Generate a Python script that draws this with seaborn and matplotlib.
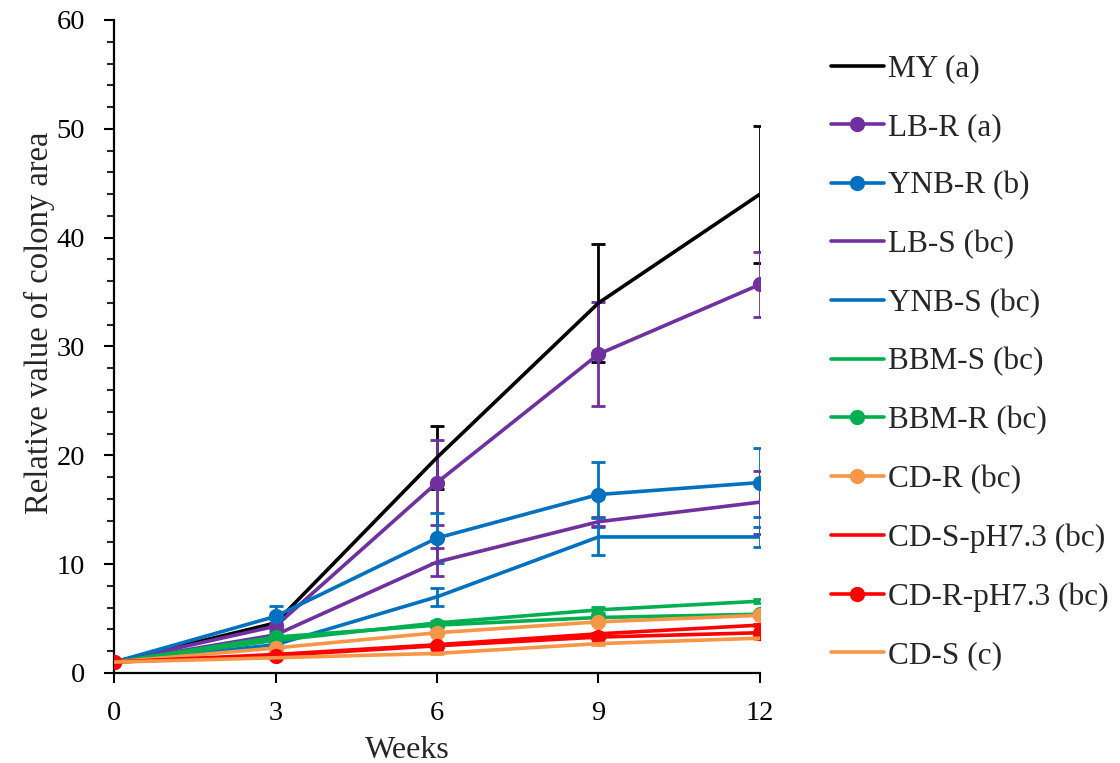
import matplotlib
matplotlib.use("Agg")
import matplotlib.pyplot as plt
import seaborn as sns
import numpy as np
from matplotlib.ticker import MultipleLocator

sns.set_theme(style="white")
plt.rcParams['font.family'] = ['Liberation Serif', 'DejaVu Serif']

weeks = [0, 3, 6, 9, 12]
labels = ["MY (a)", "LB-R (a)", "YNB-R (b)", "LB-S (bc)", "YNB-S (bc)", "BBM-S (bc)",
          "BBM-R (bc)", "CD-R (bc)", "CD-S-pH7.3 (bc)", "CD-R-pH7.3 (bc)", "CD-S (c)"]

my = [1.0, 4.6, 19.8, 34.0, 44.0]
lb_r = [1.0, 4.3, 17.5, 29.3, 35.7]
ynb_r = [1.0, 5.2, 12.4, 16.4, 17.5]
lb_s = [1.0, 3.5, 10.2, 13.9, 15.7]
ynb_s = [1.0, 2.6, 7.0, 12.5, 12.5]
bbm_s = [1.0, 3.0, 4.6, 5.8, 6.6]
bbm_r = [1.0, 3.3, 4.4, 5.1, 5.4]
cd_r = [1.0, 2.3, 3.7, 4.7, 5.3]
cd_s_ph = [1.0, 1.7, 2.6, 3.6, 4.4]
cd_r_ph = [1.0, 1.6, 2.5, 3.3, 3.7]
cd_s = [1.0, 1.4, 1.8, 2.7, 3.2]

my_err = [0.0, 0.4, 2.9, 5.4, 6.3]
lb_r_err = [0.0, 0.3, 3.9, 4.8, 3.0]
ynb_r_err = [0.0, 1.0, 2.3, 3.0, 3.2]
lb_s_err = [0.0, 0.3, 1.3, 0.4, 2.9]
ynb_s_err = [0.0, 0.2, 0.8, 1.7, 0.9]
bbm_s_err = [0.0, 0.2, 0.2, 0.25, 0.2]
bbm_r_err = [0.0, 0.2, 0.2, 0.2, 0.2]
cd_r_err = [0.0, 0.15, 0.15, 0.15, 0.15]
cd_s_ph_err = [0.0, 0.1, 0.1, 0.1, 0.1]
cd_r_ph_err = [0.0, 0.1, 0.1, 0.1, 0.1]
cd_s_err = [0.0, 0.1, 0.1, 0.1, 0.1]

series = [my, lb_r, ynb_r, lb_s, ynb_s, bbm_s, bbm_r, cd_r, cd_s_ph, cd_r_ph, cd_s]
errs = [my_err, lb_r_err, ynb_r_err, lb_s_err, ynb_s_err, bbm_s_err, bbm_r_err,
        cd_r_err, cd_s_ph_err, cd_r_ph_err, cd_s_err]

BLACK = "#000000"
PURPLE = "#7030A0"
BLUE = "#0070C0"
GREEN = "#00B050"
ORANGE = "#F79646"
RED = "#FF0000"
colors = [BLACK, PURPLE, BLUE, PURPLE, BLUE, GREEN, GREEN, ORANGE, RED, RED, ORANGE]
markers = [None, "o", "o", None, None, None, "o", "o", None, "o", None]

fig = plt.figure(figsize=(11.2, 7.63), dpi=100)
ax = fig.add_axes([114 / 1120, 90 / 763, (760 - 114) / 1120, (673 - 20) / 763])

for vals, err, lab, c, m in zip(series, errs, labels, colors, markers):
    ax.errorbar(weeks, vals, yerr=err, fmt="none", ecolor=c, elinewidth=2,
                capsize=5, capthick=2, zorder=2)
    sns.lineplot(x=weeks, y=vals, ax=ax, color=c, linewidth=2.6,
                 marker=m if m else None, markersize=11 if m else 0,
                 markeredgewidth=0, label=lab, zorder=3)

ax.set_xlim(0, 12)
ax.set_ylim(0, 60)
ax.set_xticks([0, 3, 6, 9, 12])
ax.yaxis.set_major_locator(MultipleLocator(10))
ax.yaxis.set_minor_locator(MultipleLocator(2))
ax.tick_params(axis="both", which="major", direction="out", length=7, width=1.5,
               labelsize=20.5, colors="black", left=True, bottom=True)
ax.tick_params(axis="y", which="major", pad=14)
ax.tick_params(axis="x", which="major", pad=13)
ax.tick_params(axis="y", which="minor", direction="out", length=5, width=1.5, left=True)
for s in ["top", "right"]:
    ax.spines[s].set_visible(False)
for s in ["left", "bottom"]:
    ax.spines[s].set_color("black")
    ax.spines[s].set_linewidth(1.6)
ax.set_xlabel("Weeks", fontsize=23)
ax.set_ylabel("Relative value of colony area", fontsize=23.5)
ax.xaxis.set_label_coords((407 - 114) / 646, (673 - 736) / 653)
ax.yaxis.set_label_coords((55 - 114) / 646, (673 - 323) / 653)
ax.grid(False)

handles, labs = ax.get_legend_handles_labels()
ax.legend_.remove()
fig.legend(handles, labs, loc="upper left", bbox_to_anchor=(818 / 1120, 1 - 42 / 763),
           frameon=False, fontsize=22.5, handlelength=1.7, handletextpad=0.15,
           labelspacing=0.94, markerscale=1.0, borderaxespad=0)

fig.savefig("out.png", dpi=100)
